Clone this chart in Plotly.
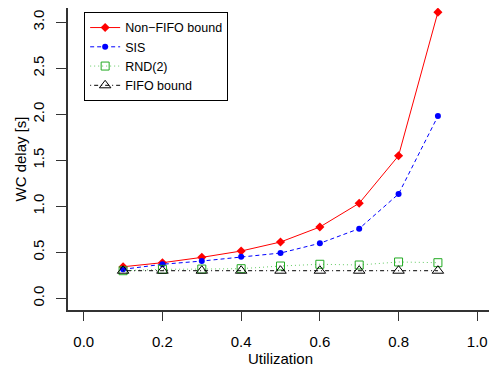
import plotly.graph_objects as go

utilization = [0.1, 0.2, 0.3, 0.4, 0.5, 0.6, 0.7, 0.8, 0.9]
non_fifo = [0.343, 0.387, 0.445, 0.514, 0.612, 0.775, 1.033, 1.55, 3.11]
sis = [0.315, 0.37, 0.405, 0.452, 0.492, 0.598, 0.757, 1.134, 1.98]
rnd2 = [0.30, 0.315, 0.318, 0.322, 0.351, 0.37, 0.362, 0.395, 0.387]
fifo = [0.30, 0.30, 0.30, 0.30, 0.30, 0.30, 0.30, 0.30, 0.30]

y_ticks = [0.0, 0.5, 1.0, 1.5, 2.0, 2.5, 3.0]
x_ticks = [0.0, 0.2, 0.4, 0.6, 0.8, 1.0]

FONT = "Liberation Sans, Arial, sans-serif"

fig = go.Figure()
fig.add_trace(go.Scatter(x=utilization, y=non_fifo, name="Non\u2212FIFO bound",
                         mode="lines+markers", cliponaxis=False,
                         line=dict(color="#ff0000", width=1, dash="solid"),
                         marker=dict(symbol="diamond", size=7, color="#ff0000")))
fig.add_trace(go.Scatter(x=utilization, y=sis, name="SIS",
                         mode="lines+markers", cliponaxis=False,
                         line=dict(color="#0000ff", width=1, dash="4px,3px"),
                         marker=dict(symbol="circle", size=6, color="#0000ff")))
fig.add_trace(go.Scatter(x=utilization, y=rnd2, name="RND(2)",
                         mode="lines+markers", cliponaxis=False,
                         line=dict(color="#66cc66", width=1, dash="1px,3px"),
                         marker=dict(symbol="square-open", size=8, color="#22aa22",
                                     line=dict(width=1))))
fig.add_trace(go.Scatter(x=utilization, y=fifo, name="FIFO bound",
                         mode="lines+markers", cliponaxis=False,
                         line=dict(color="#000000", width=1, dash="1px,3px,4px,3px"),
                         marker=dict(symbol="triangle-up-open", size=10, color="#000000",
                                     line=dict(width=1))))

fig.update_layout(
    width=489, height=366,
    margin=dict(l=60, r=4, t=0, b=64),
    paper_bgcolor="white", plot_bgcolor="white",
    font=dict(family=FONT, size=15, color="black"),
    showlegend=True,
    legend=dict(x=0.038, y=0.987, xanchor="left", yanchor="top",
                bordercolor="black", borderwidth=1, bgcolor="white",
                font=dict(size=12.5), tracegroupgap=0, itemwidth=30),
    xaxis=dict(range=[-0.04, 1.04], tickvals=x_ticks,
               ticktext=["%.1f" % v for v in x_ticks],
               automargin=False,
               showgrid=False, zeroline=False, showline=True,
               linecolor="#333333", linewidth=1.5,
               ticks="outside", ticklen=9, tickcolor="#333333",
               ticklabelstandoff=8,
               tickfont=dict(size=15),
               title=dict(text="Utilization", standoff=4, font=dict(size=15))),
    yaxis=dict(range=[-0.127, 3.155], tickvals=y_ticks,
               ticktext=["%.1f" % v for v in y_ticks],
               tickangle=-90,
               automargin=False,
               showgrid=False, zeroline=False, showline=True,
               linecolor="#333333", linewidth=1.5,
               ticks="outside", ticklen=10, tickcolor="#333333",
               ticklabelstandoff=6,
               tickfont=dict(size=15),
               title=dict(text="WC delay [s]", standoff=0, font=dict(size=15))),
)

fig.write_html("out.html")
